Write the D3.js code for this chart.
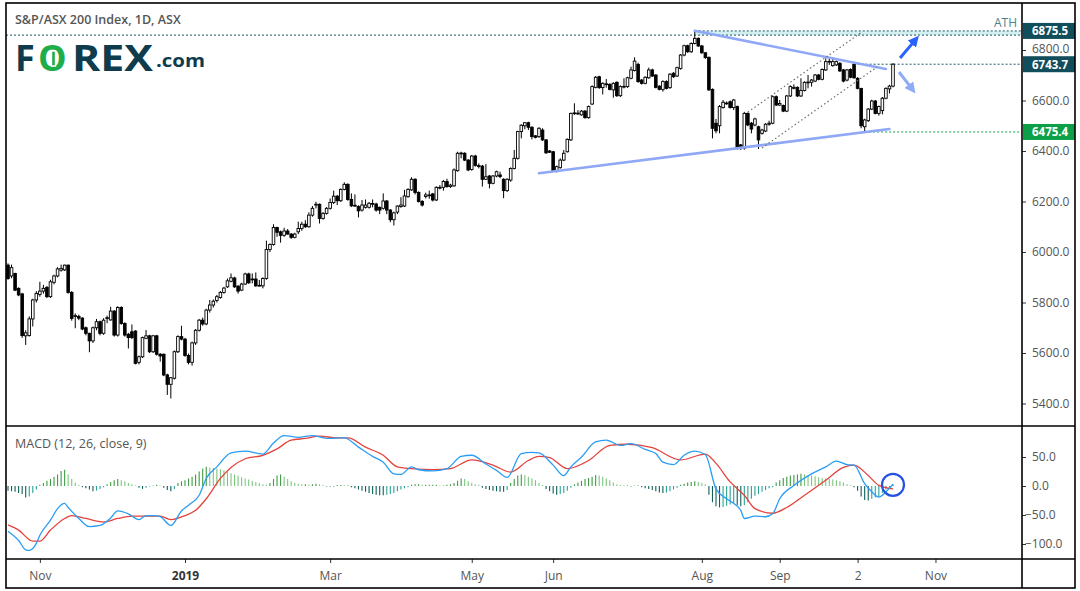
<!DOCTYPE html>
<html>
<head>
<meta charset="utf-8">
<script src="https://d3js.org/d3.v7.min.js"></script>
<style>
  body { margin: 0; background: #fff; }
  svg { display: block; }
  text { font-family: "Open Sans", "Noto Sans", sans-serif; }
</style>
</head>
<body>
<div id="chart"></div>
<script>
// daily candles, [open, high, low, close], Oct 19 2018 .. Oct 16 2019
const ohlc = [
  [5948,5955,5890,5895],[5905,5950,5896,5938],[5915,5918,5845,5849],[5856,5860,5825,5830],[5834,5838,5660,5669],
  [5668,5690,5632,5680],[5669,5745,5665,5735],[5735,5815,5705,5810],[5810,5845,5800,5836],[5832,5882,5823,5845],
  [5845,5870,5835,5856],[5860,5865,5818,5823],[5823,5890,5818,5882],[5880,5910,5872,5905],[5905,5940,5900,5933],
  [5928,5950,5922,5935],[5929,5950,5925,5948],[5948,5950,5835,5840],[5840,5845,5728,5737],[5745,5757,5698,5748],
  [5745,5752,5730,5738],[5738,5742,5690,5695],[5700,5705,5670,5678],[5678,5680,5603,5648],[5648,5705,5640,5700],
  [5700,5735,5690,5724],[5724,5728,5670,5678],[5678,5738,5672,5730],[5738,5748,5718,5740],[5731,5783,5728,5766],
  [5766,5770,5665,5671],[5671,5785,5665,5780],[5780,5785,5712,5717],[5717,5722,5665,5671],[5674,5680,5618,5661],
  [5684,5713,5655,5661],[5687,5690,5555,5559],[5563,5590,5555,5585],[5585,5665,5580,5661],[5658,5691,5655,5668],
  [5668,5672,5600,5605],[5605,5672,5600,5668],[5668,5672,5590,5595],[5595,5600,5566,5588],[5595,5598,5508,5513],
  [5513,5518,5434,5476],[5476,5505,5420,5502],[5500,5610,5495,5605],[5605,5670,5600,5665],[5665,5708,5650,5655],
  [5655,5660,5585,5590],[5590,5598,5555,5563],[5563,5645,5550,5640],[5640,5695,5632,5690],[5690,5735,5685,5730],
  [5730,5740,5708,5715],[5715,5775,5710,5770],[5770,5810,5760,5790],[5790,5812,5780,5805],[5808,5830,5800,5823],
  [5820,5845,5815,5840],[5840,5862,5835,5857],[5862,5895,5858,5886],[5884,5915,5880,5898],[5897,5902,5858,5862],
  [5865,5868,5835,5845],[5849,5878,5845,5873],[5873,5918,5870,5913],[5913,5918,5874,5878],[5890,5915,5876,5893],
  [5893,5919,5862,5866],[5866,5889,5864,5868],[5866,5900,5856,5895],[5895,6045,5890,6010],[6010,6034,6000,6030],
  [6030,6110,6025,6097],[6097,6100,6060,6078],[6080,6085,6037,6066],[6066,6096,6060,6083],[6083,6091,6068,6071],
  [6071,6075,6052,6058],[6058,6076,6054,6071],[6080,6120,6071,6093],[6093,6120,6084,6110],[6110,6126,6095,6100],
  [6100,6157,6096,6146],[6146,6182,6140,6173],[6187,6199,6173,6189],[6189,6192,6113,6133],[6133,6158,6128,6153],
  [6153,6178,6148,6173],[6173,6212,6168,6196],[6196,6243,6190,6221],[6221,6226,6186,6203],[6203,6252,6198,6248],
  [6248,6276,6244,6268],[6268,6272,6203,6208],[6208,6232,6178,6183],[6185,6228,6179,6183],[6180,6185,6137,6163],
  [6166,6206,6160,6186],[6177,6208,6172,6186],[6177,6198,6172,6193],[6190,6208,6177,6192],[6190,6195,6160,6166],
  [6177,6180,6150,6166],[6173,6232,6168,6202],[6202,6206,6150,6166],[6166,6170,6118,6128],[6128,6160,6105,6155],
  [6158,6185,6150,6182],[6180,6217,6175,6186],[6182,6246,6178,6222],[6219,6252,6215,6248],[6246,6296,6242,6288],
  [6288,6292,6228,6236],[6236,6240,6196,6200],[6200,6206,6180,6186],[6220,6235,6212,6226],[6226,6243,6211,6226],
  [6230,6234,6200,6206],[6206,6260,6202,6256],[6254,6265,6248,6256],[6256,6285,6243,6279],[6279,6290,6255,6259],
  [6259,6270,6254,6265],[6262,6331,6258,6325],[6322,6397,6318,6391],[6391,6397,6371,6392],[6391,6395,6360,6364],
  [6364,6368,6320,6325],[6327,6384,6322,6380],[6380,6385,6338,6343],[6342,6351,6331,6340],[6340,6345,6259,6288],
  [6288,6348,6285,6298],[6301,6305,6252,6272],[6272,6305,6268,6301],[6301,6322,6296,6318],[6305,6318,6292,6299],
  [6288,6292,6213,6243],[6243,6292,6238,6288],[6285,6335,6278,6331],[6331,6404,6327,6371],[6371,6480,6366,6477],
  [6477,6506,6450,6502],[6500,6515,6486,6512],[6512,6516,6483,6494],[6494,6498,6446,6457],[6460,6463,6450,6454],
  [6457,6494,6452,6490],[6483,6490,6440,6444],[6444,6447,6388,6393],[6400,6404,6392,6395],[6397,6400,6318,6321],
  [6321,6342,6315,6338],[6334,6371,6330,6364],[6364,6404,6360,6391],[6397,6450,6394,6446],[6444,6552,6440,6549],
  [6549,6589,6543,6551],[6550,6562,6543,6549],[6543,6562,6540,6558],[6558,6562,6528,6532],[6532,6580,6528,6576],
  [6586,6660,6582,6655],[6652,6697,6648,6692],[6694,6698,6646,6651],[6651,6672,6624,6668],[6664,6685,6651,6666],
  [6664,6668,6640,6644],[6642,6672,6611,6668],[6672,6676,6614,6619],[6619,6660,6614,6655],[6654,6688,6648,6656],
  [6655,6694,6650,6690],[6688,6734,6684,6721],[6719,6771,6715,6756],[6743,6750,6670,6675],[6681,6685,6663,6668],
  [6668,6696,6664,6692],[6690,6730,6686,6721],[6721,6726,6693,6697],[6701,6704,6648,6652],[6657,6660,6640,6644],
  [6644,6680,6635,6675],[6675,6680,6644,6648],[6651,6708,6646,6704],[6708,6712,6690,6694],[6697,6734,6693,6730],
  [6727,6784,6722,6780],[6780,6821,6775,6817],[6817,6821,6789,6793],[6793,6830,6789,6826],[6826,6875.5,6822,6846],
  [6846,6850,6812,6816],[6816,6820,6785,6789],[6789,6792,6765,6770],[6771,6774,6638,6642],[6644,6648,6450,6490],
  [6510,6527,6470,6480],[6500,6582,6470,6576],[6572,6602,6568,6593],[6590,6596,6583,6589],[6595,6600,6568,6572],
  [6572,6606,6562,6602],[6576,6580,6405,6411],[6424,6428,6404,6413],[6411,6555,6405,6549],[6549,6553,6498,6503],
  [6510,6515,6470,6487],[6503,6532,6498,6527],[6496,6500,6408,6444],[6470,6488,6465,6483],[6479,6510,6475,6506],
  [6506,6520,6500,6510],[6510,6620,6506,6615],[6615,6620,6578,6582],[6582,6602,6578,6588],[6580,6584,6554,6558],
  [6558,6622,6554,6618],[6618,6660,6614,6655],[6648,6664,6644,6652],[6652,6656,6614,6618],[6618,6688,6614,6640],
  [6640,6676,6636,6672],[6671,6701,6648,6673],[6672,6685,6655,6681],[6677,6705,6673,6701],[6701,6705,6680,6684],
  [6684,6727,6680,6723],[6721,6767,6717,6754],[6754,6771,6741,6755],[6738,6771,6734,6754],[6741,6758,6737,6754],
  [6747,6752,6713,6717],[6721,6725,6672,6677],[6681,6725,6676,6721],[6723,6727,6688,6692],[6743,6750,6686,6690],
  [6688,6692,6644,6648],[6648,6650,6490,6500],[6496,6528,6475.4,6523],[6520,6570,6515,6566],[6566,6603,6562,6598],
  [6598,6602,6545,6549],[6549,6580,6540,6576],[6560,6614,6545,6609],[6609,6652,6605,6648],[6646,6662,6628,6657],
  [6657,6748,6652,6743.7]
];

// MACD histogram, one bar per candle
const histVals = [
  -8,-9,-10,-12,-14,-20,-18,-12,-6,2,
  5,9,12,16,20,26,28,20,12,6,2,
  -2,-4,-6,-9,-8,-5,-2,
  3,7,10,12,10,8,5,3,1,
  -3,-5,-3,-1,1,2,1,
  -3,-7,-9,-5,
  5,8,10,13,16,20,25,30,33,32,31,30,29,27,24,22,20,18,15,13,11,9,7,5,3,2,
  5,12,18,20,16,12,8,5,4,3,3,2,3,4,3,
  0,-1,-1,-1,0,0,1,0,
  -2,-4,-6,-8,-10,-12,-14,-15,-16,-16,-15,-14,-12,-9,-6,-4,-2,
  2,3,3,2,2,2,2,2,1,1,2,3,
  5,9,13,12,8,5,3,2,
  -3,-5,-7,-8,-9,-10,-10,-7,
  5,12,18,20,19,16,13,10,
  5,2,
  -5,-9,-13,-15,-14,-12,-8,-3,
  3,6,9,12,14,16,19,18,16,13,10,6,3,
  0,1,0,-1,1,0,
  -2,-4,-5,-7,-9,-11,-12,-11,-9,-6,-3,
  2,4,6,7,8,7,5,3,
  -15,-28,-35,-37,-36,-34,-32,-30,-33,-35,-33,-28,-22,-17,-14,-10,-7,-4,-2,
  6,10,14,16,18,19,20,21,20,19,18,17,15,14,13,12,11,10,8,6,3,1,
  -2,-8,-18,-24,-25,-22,-20,-18,-12,-6,-2,
  3
];

// MACD and signal lines, [candle index, value]
const macdPts = [
  [0,-78],[3,-94],[5,-110],[6,-111],[8,-99],[9,-85],[12,-59],[14,-39],[16,-30],[17,-37],
  [20,-56],[23,-70],[26,-68],[29,-55],[31,-43],[34,-48],[37,-58],[39,-51],[41,-51],[43,-53],
  [46,-68],[49,-43],[51,-33],[54,-16],[56,13],[59,33],[63,57],[67,60],[72,55],[75,74],
  [78,87],[82,84],[86,87],[90,82],[95,83],[99,67],[103,51],[106,41],[109,21],[111,20],
  [114,33],[116,28],[120,26],[124,30],[128,51],[131,53],[135,38],[138,27],[141,15],[145,56],
  [148,58],[150,57],[154,36],[157,18],[159,33],[162,50],[166,76],[169,79],[173,70],[176,73],
  [180,63],[183,56],[185,41],[188,37],[191,53],[194,60],[197,54],[200,-5],[203,-22],[205,-30],
  [207,-42],[208,-56],[211,-52],[214,-53],[216,-48],[218,-22],[222,1],[227,21],[231,33],[234,43],
  [237,37],[239,36],[242,4],[244,-10],[246,-19],[248,-10],[250,3]
];
const signalPts = [
  [0,-67],[3,-76],[7,-95],[9,-95],[12,-76],[16,-56],[18,-51],[22,-56],[27,-62],[31,-56],
  [35,-52],[39,-52],[43,-52],[46,-58],[50,-51],[53,-42],[56,-22],[60,13],[63,32],[67,47],
  [72,53],[76,64],[80,79],[84,82],[88,86],[93,83],[96,83],[101,67],[106,53],[110,33],
  [114,30],[120,28],[125,30],[131,45],[137,36],[142,24],[147,44],[150,51],[153,49],[158,30],
  [164,44],[170,70],[175,72],[182,66],[190,45],[197,55],[200,39],[204,7],[208,-16],[211,-39],
  [216,-47],[220,-37],[225,-16],[231,10],[236,32],[239,36],[243,18],[246,1],[250,-5]
];

const priceTicks = [5400, 5600, 5800, 6000, 6200, 6400, 6600, 6800];
const macdTicks = [50, 0, -50, -100];
const timeTicks = [[9,"Nov"],[50,"2019"],[91,"Mar"],[131,"May"],[154,"Jun"],[196,"Aug"],[218,"Sep"],[240,"2"],[262,"Nov"]];

// drawings, in [candle index, price]
const athPrice = 6875.5, athBandLow = 6859, athStart = 194;
const lastPrice = 6743.7, lastStart = 240;
const lowPrice = 6475.4, lowStart = 241;
const supportLine = [[150, 6312], [249, 6487]];
const resistLine = [[194, 6876], [248, 6725]];
const channelTop = [[209, 6554], [241.2, 6871]];
const channelBottom = [[213, 6412], [245.5, 6733]];
const arrowUp = [[252, 6768], [256.5, 6843]];
const arrowDown = [[251.7, 6713], [255.6, 6642]];
const circleAt = [250, 2];

const W = 1080, H = 591;
const L = 6, R = 1075, T = 3, B = 588, AX = 1022, SPLIT = 426, TIME = 559;

const svg = d3.select("#chart").append("svg")
  .attr("width", W).attr("height", H);

const x = d3.scaleLinear().domain([0, 250]).range([8, 893]);
const y = d3.scaleLinear().domain([5400, 6800]).range([403.5, 50]);
const ym = d3.scaleLinear().domain([-100, 50]).range([544, 457]);

const defs = svg.append("defs");
defs.append("clipPath").attr("id", "clipPrice")
  .append("rect").attr("x", L).attr("y", T).attr("width", AX - L).attr("height", SPLIT - T);
defs.append("clipPath").attr("id", "clipMacd")
  .append("rect").attr("x", L).attr("y", SPLIT).attr("width", AX - L).attr("height", TIME - SPLIT);

const addHead = (id, color) => defs.append("marker").attr("id", id)
  .attr("viewBox", "0 0 10 10").attr("refX", 6).attr("refY", 5)
  .attr("markerUnits", "userSpaceOnUse").attr("markerWidth", 11).attr("markerHeight", 11)
  .attr("orient", "auto")
  .append("path").attr("d", "M0,0 L10,5 L0,10 z").attr("fill", color);
addHead("headDark", "#2962ff");
addHead("headLight", "#8fabf5");

//////////////////////////////////////////////////////////////
//                       price pane
//////////////////////////////////////////////////////////////

const gp = svg.append("g").attr("clip-path", "url(#clipPrice)");

// ATH band and level lines
gp.append("rect")
  .attr("x", x(athStart)).attr("y", y(athPrice))
  .attr("width", AX - x(athStart)).attr("height", y(athBandLow) - y(athPrice))
  .attr("fill", "#d3eff0");
gp.append("line")
  .attr("x1", x(athStart)).attr("x2", AX).attr("y1", y(athPrice)).attr("y2", y(athPrice))
  .attr("stroke", "#1d5666").attr("stroke-dasharray", "2,2");
gp.append("line")
  .attr("x1", L).attr("x2", AX).attr("y1", y(athBandLow)).attr("y2", y(athBandLow))
  .attr("stroke", "#1d5666").attr("stroke-dasharray", "2,2");
gp.append("line")
  .attr("x1", x(lastStart)).attr("x2", AX).attr("y1", y(lastPrice)).attr("y2", y(lastPrice))
  .attr("stroke", "#1d5666").attr("stroke-dasharray", "2,2");
gp.append("line")
  .attr("x1", x(lowStart)).attr("x2", AX).attr("y1", y(lowPrice)).attr("y2", y(lowPrice))
  .attr("stroke", "#15a04c").attr("stroke-dasharray", "2,2");
gp.append("text")
  .attr("x", 1017).attr("y", 27).attr("text-anchor", "end")
  .attr("font-size", 12).attr("fill", "#4f7f8c").text("ATH");

// candles
const candle = gp.selectAll(".candle").data(ohlc).join("g").attr("class", "candle");
candle.append("line")
  .attr("x1", (d, i) => x(i)).attr("x2", (d, i) => x(i))
  .attr("y1", d => y(d[1])).attr("y2", d => y(d[2]))
  .attr("stroke", "#000").attr("stroke-width", 1);
candle.append("rect")
  .attr("x", (d, i) => x(i) - 1.3)
  .attr("y", d => y(Math.max(d[0], d[3])))
  .attr("width", 2.6)
  .attr("height", d => Math.max(0.8, Math.abs(y(d[0]) - y(d[3]))))
  .attr("fill", d => d[3] >= d[0] ? "#fff" : "#000")
  .attr("stroke", "#000").attr("stroke-width", 0.9);

// trend lines and channel
const seg = pts => d3.line().x(d => x(d[0])).y(d => y(d[1]))(pts);
[supportLine, resistLine].forEach(p =>
  gp.append("path").attr("d", seg(p)).attr("fill", "none")
    .attr("stroke", "#8ea7f6").attr("stroke-width", 2.6).attr("stroke-linecap", "round"));
[channelTop, channelBottom].forEach(p =>
  gp.append("path").attr("d", seg(p)).attr("fill", "none")
    .attr("stroke", "#6f6f6f").attr("stroke-width", 1.2).attr("stroke-dasharray", "1.5,2.5"));

gp.append("path").attr("d", seg(arrowUp)).attr("stroke", "#2962ff")
  .attr("stroke-width", 3).attr("marker-end", "url(#headDark)");
gp.append("path").attr("d", seg(arrowDown)).attr("stroke", "#8fabf5")
  .attr("stroke-width", 3).attr("marker-end", "url(#headLight)");

//////////////////////////////////////////////////////////////
//                       MACD pane
//////////////////////////////////////////////////////////////

const gm = svg.append("g").attr("clip-path", "url(#clipMacd)");

const histColor = (v, i) => {
  const prev = i > 0 ? histVals[i - 1] : v;
  if (v >= 0) return v >= prev ? "#3d9b41" : "#7cc47e";
  return v <= prev ? "#0f5f5a" : "#2aa394";
};

gm.selectAll(".bar").data(histVals).join("line").attr("class", "bar")
  .attr("x1", (d, i) => x(i)).attr("x2", (d, i) => x(i))
  .attr("y1", ym(0)).attr("y2", d => d === 0 ? ym(0) - 1 : ym(d))
  .attr("stroke", histColor).attr("stroke-width", 1.1);

const mline = d3.line().x(d => x(d[0])).y(d => ym(d[1])).curve(d3.curveMonotoneX);
gm.append("path").attr("d", mline(signalPts)).attr("fill", "none")
  .attr("stroke", "#e5423c").attr("stroke-width", 1.3);
gm.append("path").attr("d", mline(macdPts)).attr("fill", "none")
  .attr("stroke", "#2a9df4").attr("stroke-width", 1.3);

gm.append("circle").attr("cx", x(circleAt[0])).attr("cy", ym(circleAt[1])).attr("r", 11)
  .attr("fill", "none").attr("stroke", "#2450e3").attr("stroke-width", 2.2);

//////////////////////////////////////////////////////////////
//                       axes
//////////////////////////////////////////////////////////////

const styleAxis = g => {
  g.select(".domain").remove();
  g.selectAll(".tick line").attr("stroke", "#333");
  g.selectAll(".tick text").attr("fill", "#555").attr("font-size", 12)
    .attr("font-family", "\"Open Sans\", \"Noto Sans\", sans-serif");
};

svg.append("g").attr("transform", `translate(${AX},0)`)
  .call(d3.axisRight(y).tickValues(priceTicks).tickSize(4).tickPadding(6).tickFormat(d3.format(".1f")))
  .call(styleAxis)
  .call(g => g.selectAll(".tick text").filter(d => d === 6800).attr("dy", "0.2em"));

svg.append("g").attr("transform", `translate(${AX},0)`)
  .call(d3.axisRight(ym).tickValues(macdTicks).tickSize(4).tickPadding(6).tickFormat(d3.format(".1f")))
  .call(styleAxis)
  .call(g => g.selectAll(".tick text").attr("dx", d => d < 0 ? -7 : 0));

svg.append("g").attr("transform", `translate(0,${TIME})`)
  .call(d3.axisBottom(x).tickValues(timeTicks.map(d => d[0])).tickSize(4).tickPadding(8)
    .tickFormat((d, i) => timeTicks[i][1]))
  .call(styleAxis)
  .call(g => g.selectAll(".tick text").filter((d, i) => timeTicks[i][1] === "2019")
    .attr("fill", "#333").attr("font-weight", 700));

// price labels on the axis
const tags = [[athPrice, "#124d5b"], [lastPrice, "#124d5b"], [lowPrice, "#0c9f48"]];
const tag = svg.selectAll(".tag").data(tags).join("g").attr("class", "tag");
tag.append("rect")
  .attr("x", AX + 1).attr("y", d => y(d[0]) - 8)
  .attr("width", R - AX - 1).attr("height", 16).attr("fill", d => d[1]);
tag.append("text")
  .attr("x", AX + 10).attr("y", d => y(d[0]) + 4.5)
  .attr("fill", "#fff").attr("font-size", 11.5).attr("font-weight", 700)
  .text(d => d3.format(".1f")(d[0]));

//////////////////////////////////////////////////////////////
//                       frame and titles
//////////////////////////////////////////////////////////////

const frame = svg.append("g").attr("stroke", "#000").attr("stroke-width", 1.6).attr("fill", "none");
frame.append("rect").attr("x", L).attr("y", T).attr("width", R - L).attr("height", B - T);
frame.append("line").attr("x1", AX).attr("x2", AX).attr("y1", T).attr("y2", B);
frame.append("line").attr("x1", L).attr("x2", R).attr("y1", SPLIT).attr("y2", SPLIT);
frame.append("line").attr("x1", L).attr("x2", R).attr("y1", TIME).attr("y2", TIME);

svg.append("text").attr("x", 15).attr("y", 24)
  .attr("font-size", 12.5).attr("font-weight", 600).attr("fill", "#555")
  .text("S&P/ASX 200 Index, 1D, ASX");

svg.append("text").attr("x", 15).attr("y", 448)
  .attr("font-size", 12.5).attr("fill", "#555")
  .text("MACD (12, 26, close, 9)");

// FOREX.com logo
const logo = svg.append("g").attr("font-family", "\"DejaVu Sans\", sans-serif").attr("font-weight", 700);
logo.append("text").attr("x", 15).attr("y", 71).attr("font-size", 36).attr("fill", "#0e3c4d").text("F");
logo.append("text").attr("x", 38).attr("y", 71).attr("font-size", 36).attr("fill", "#1fad4b").text("O");
logo.append("rect").attr("x", 51.5).attr("y", 51).attr("width", 4).attr("height", 15)
  .attr("fill", "#1fad4b").attr("stroke", "#fff").attr("stroke-width", 1.4);
logo.append("text").attr("x", 72).attr("y", 71).attr("font-size", 36).attr("fill", "#0e3c4d")
  .attr("textLength", 81).attr("lengthAdjust", "spacingAndGlyphs").text("REX");
logo.append("text").attr("x", 156).attr("y", 67).attr("font-size", 18).attr("fill", "#0e3c4d")
  .attr("textLength", 49).attr("lengthAdjust", "spacingAndGlyphs").text(".com");
</script>
</body>
</html>
